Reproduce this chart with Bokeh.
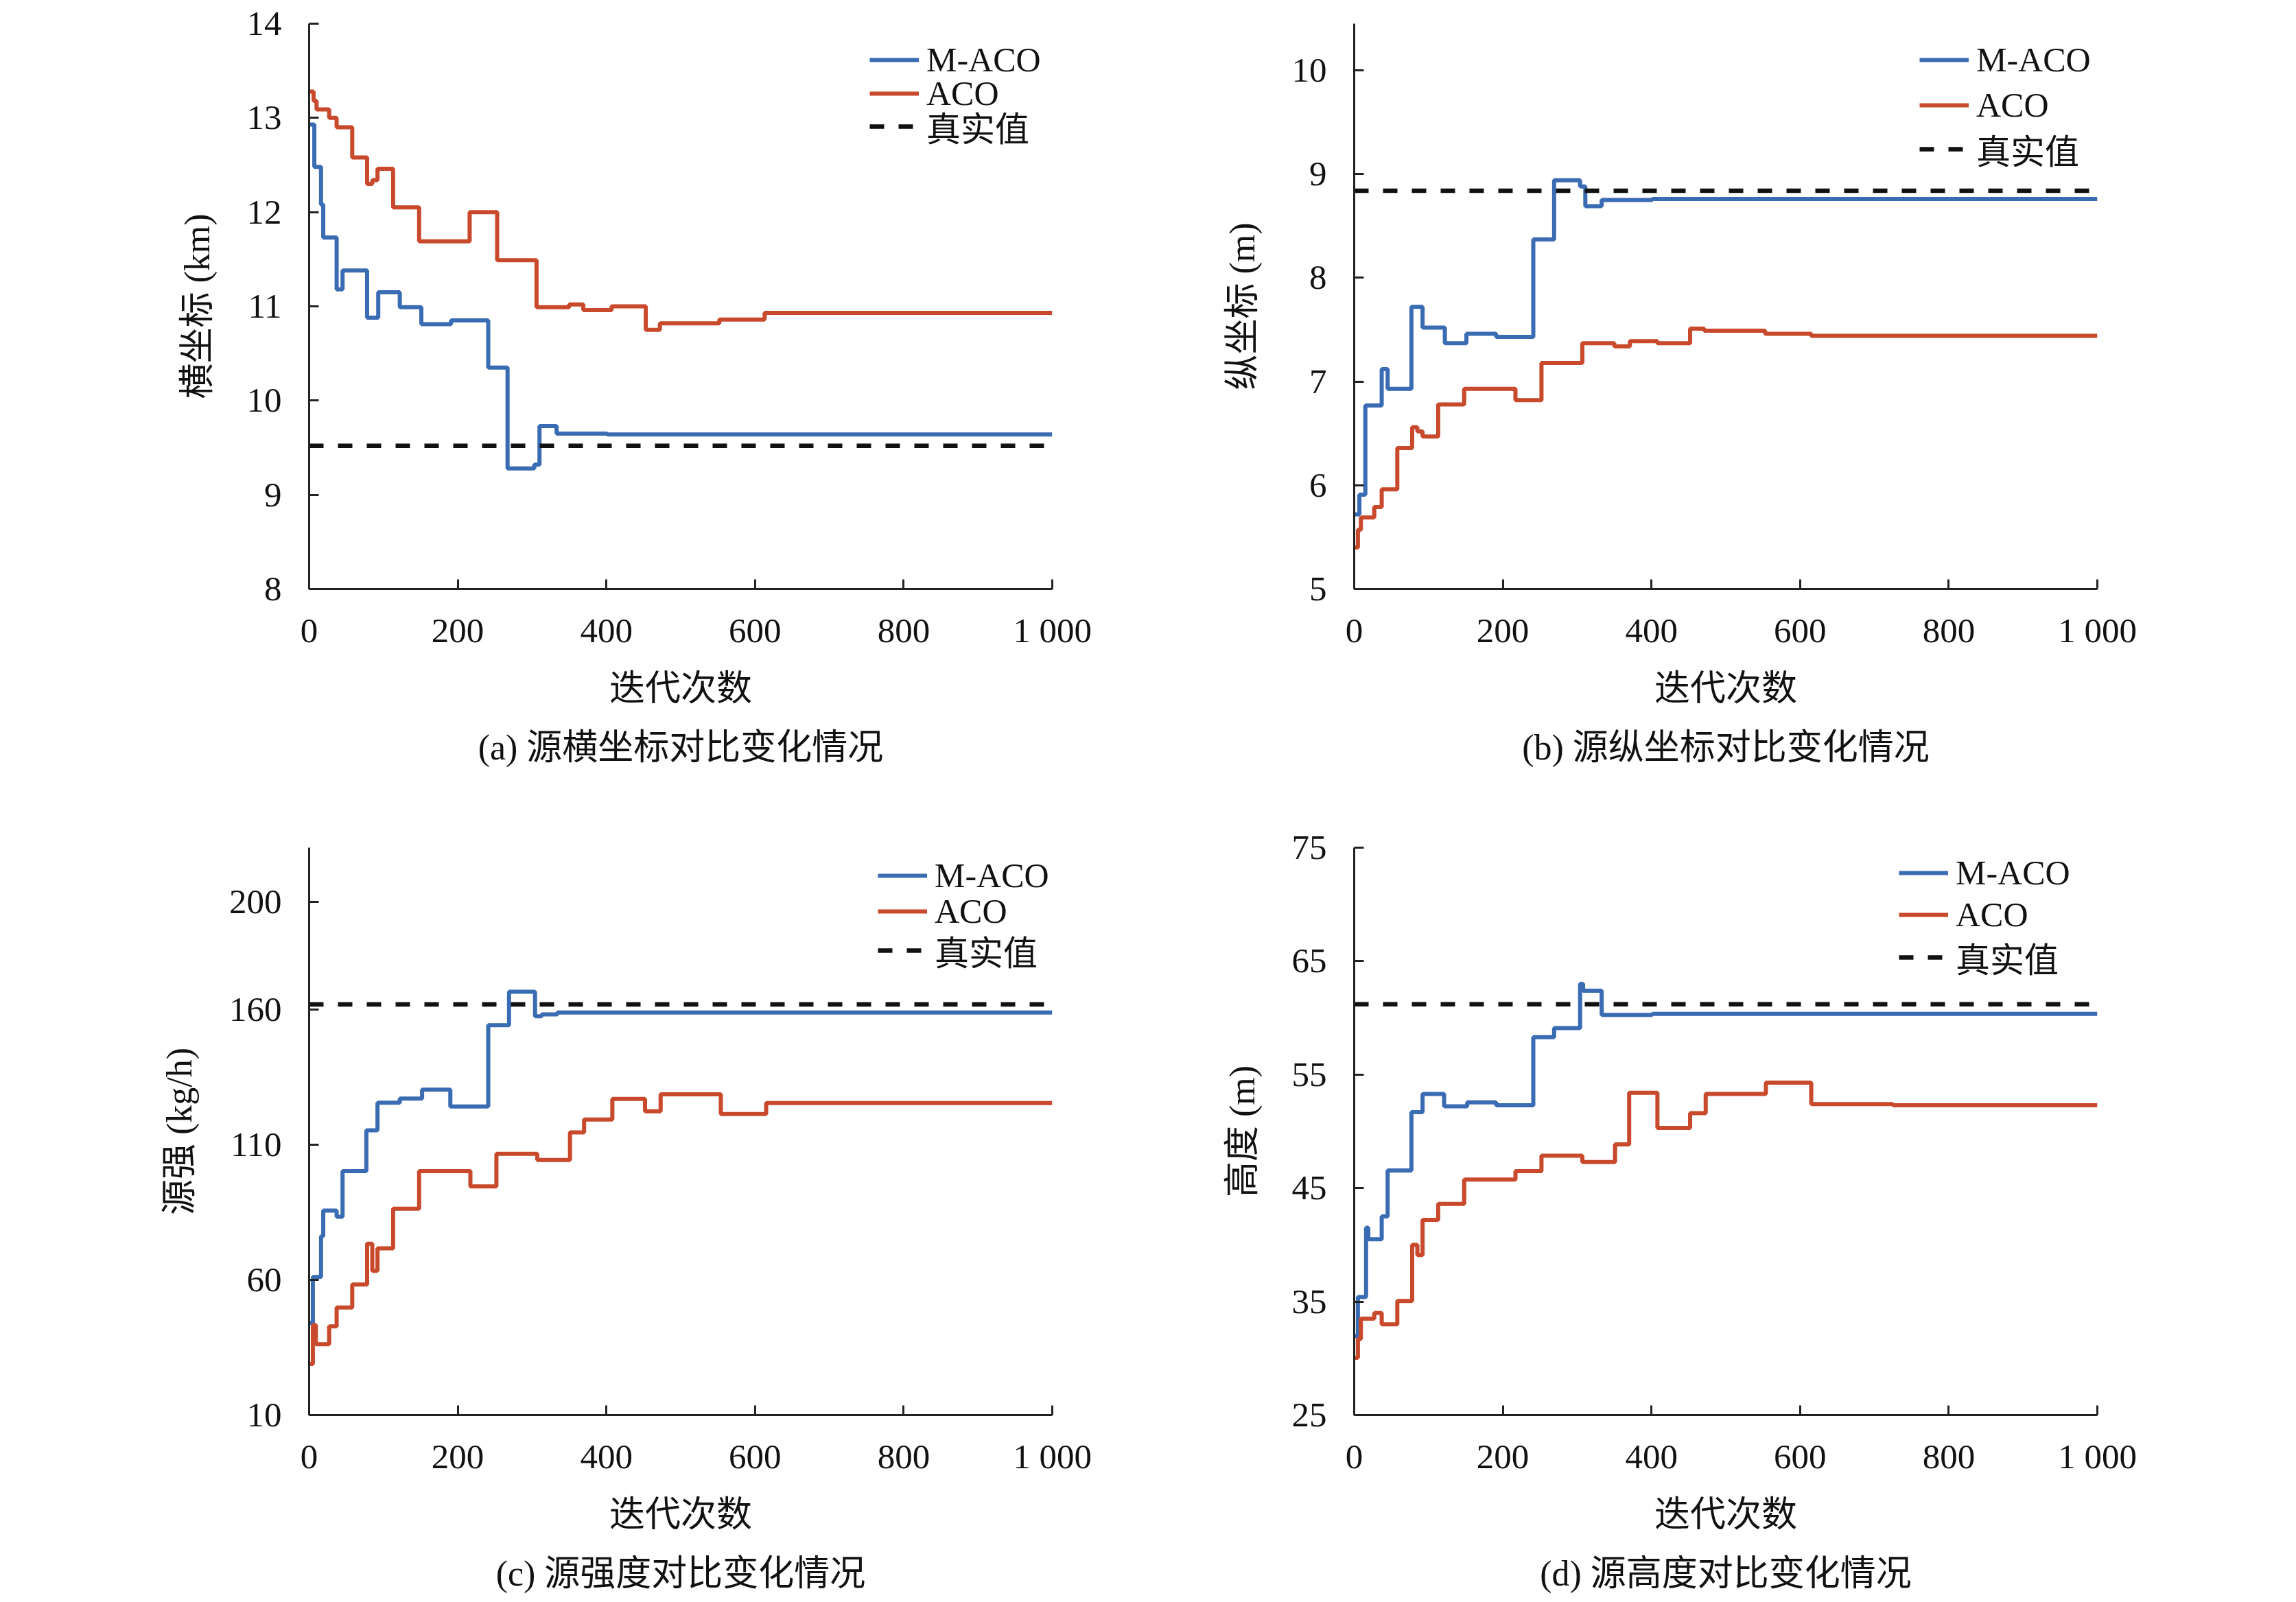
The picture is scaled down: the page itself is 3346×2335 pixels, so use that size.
from bokeh.plotting import figure
from bokeh.models import Range1d, FixedTicker, Legend, LegendItem
from bokeh.layouts import row, column
from bokeh.embed import file_html
from bokeh.resources import INLINE

FONT = "Liberation Serif, Noto Sans CJK SC"
BLUE = "#3a6cb4"
RED = "#c8492b"

# iteration axis
x_ticks = [0, 200, 400, 600, 800, 1000]

# (a) source x coordinate (km)
a_maco_x = [0, 7, 16, 19, 37, 45, 78, 93, 122, 151, 191, 241, 267, 303, 310, 333, 401, 1000]
a_maco_y = [12.93, 12.48, 12.08, 11.73, 11.18, 11.38, 10.88, 11.15, 10.99, 10.81, 10.85, 10.35,
            9.28, 9.32, 9.73, 9.65, 9.64, 9.64]
a_aco_x = [0, 6, 10, 27, 37, 58, 78, 85, 92, 113, 148, 216, 253, 306, 350, 369, 407, 453, 472,
           552, 613, 1000]
a_aco_y = [13.28, 13.18, 13.09, 13.0, 12.90, 12.58, 12.30, 12.34, 12.46, 12.05, 11.69, 12.0,
           11.49, 10.99, 11.02, 10.96, 11.0, 10.75, 10.82, 10.86, 10.93, 10.93]
a_true = 9.52
a_yticks = [8, 9, 10, 11, 12, 13, 14]

# (b) source y coordinate (m)
b_maco_x = [0, 7, 15, 37, 45, 77, 92, 122, 151, 191, 241, 269, 304, 311, 333, 401, 1000]
b_maco_y = [5.72, 5.91, 6.77, 7.12, 6.93, 7.72, 7.52, 7.37, 7.46, 7.43, 8.37, 8.94, 8.88, 8.69,
            8.75, 8.76, 8.76]
b_aco_x = [0, 5, 9, 27, 37, 58, 78, 85, 92, 113, 148, 217, 252, 307, 350, 371, 408, 452, 471,
           553, 615, 1000]
b_aco_y = [5.40, 5.57, 5.69, 5.79, 5.96, 6.36, 6.56, 6.52, 6.47, 6.78, 6.93, 6.82, 7.18, 7.37,
           7.34, 7.39, 7.37, 7.51, 7.49, 7.46, 7.44, 7.44]
b_true = 8.84
b_yticks = [5, 6, 7, 8, 9, 10]

# (c) source strength (kg/h)
c_maco_x = [0, 5, 16, 19, 37, 45, 77, 92, 122, 152, 190, 241, 269, 304, 313, 334, 1000]
c_maco_y = [44.1, 61.1, 76.2, 85.7, 83.4, 100.3, 115.4, 125.6, 127.1, 130.4, 124.2, 154.3,
            166.7, 157.6, 158.3, 159.0, 159.0]
c_aco_x = [0, 5, 9, 27, 37, 58, 78, 85, 92, 113, 148, 217, 252, 307, 351, 370, 408, 452, 473,
           554, 615, 1000]
c_aco_y = [28.9, 43.3, 36.2, 42.8, 49.8, 58.3, 73.4, 63.4, 71.7, 86.4, 100.3, 94.6, 106.7,
           104.4, 114.6, 119.4, 127.0, 122.4, 128.7, 121.4, 125.5, 125.5]
c_true = 162
c_yticks = [10, 60, 110, 160, 200]

# (d) source height (m)
d_maco_x = [0, 5, 16, 19, 37, 45, 77, 92, 121, 152, 191, 241, 269, 304, 308, 333, 401, 1000]
d_maco_y = [31.95, 35.4, 41.5, 40.5, 42.5, 46.55, 51.7, 53.3, 52.2, 52.55, 52.3, 58.3, 59.1,
            63.0, 62.4, 60.27, 60.35, 60.35]
d_aco_x = [0, 5, 9, 27, 37, 58, 78, 85, 92, 113, 148, 217, 252, 307, 351, 370, 408, 452, 473,
           554, 615, 725, 1000]
d_aco_y = [30.05, 31.7, 33.5, 34.0, 33.0, 35.05, 40.0, 39.1, 42.2, 43.6, 45.75, 46.5, 47.85,
           47.3, 48.85, 53.4, 50.3, 51.6, 53.3, 54.3, 52.4, 52.3, 52.3]
d_true = 61.2
d_yticks = [25, 35, 45, 55, 65, 75]

legend_labels = ["M-ACO", "ACO", "真实值"]
ROW_H = 80  # fixed legend row height, so rows can be placed exactly


def make_panel(caption, ylabel, y_range, y_ticks, maco_x, maco_y, aco_x, aco_y, true_val,
               legend_x, legend_rows, frame_h, borders):
    left, right, top, bottom = borders
    p = figure(frame_width=1083, frame_height=frame_h,
               x_range=Range1d(0, 1000), y_range=Range1d(*y_range),
               title=caption, title_location="below",
               output_backend="svg", toolbar_location=None,
               min_border_left=left, min_border_right=right,
               min_border_top=top, min_border_bottom=bottom)
    p.outline_line_color = None
    p.xgrid.visible = False
    p.ygrid.visible = False

    # caption under the chart
    p.title.align = "center"
    p.title.text_font = FONT
    p.title.text_font_size = "52px"
    p.title.text_font_style = "normal"
    p.title.text_color = "#111111"
    p.title.standoff = 49

    p.xaxis.ticker = FixedTicker(ticks=x_ticks)
    p.xaxis.major_label_overrides = {1000: "1 000"}
    p.yaxis.ticker = FixedTicker(ticks=y_ticks)
    p.xaxis.axis_label = "迭代次数"
    p.yaxis.axis_label = ylabel

    for ax in (p.xaxis, p.yaxis):
        ax.axis_line_width = 3
        ax.axis_line_color = "#222222"
        ax.major_tick_line_width = 3
        ax.major_tick_line_color = "#222222"
        ax.major_tick_in = 14
        ax.major_tick_out = 0
        ax.minor_tick_line_color = None
        ax.major_label_text_font = FONT
        ax.major_label_text_font_size = "51px"
        ax.major_label_text_color = "#111111"
        ax.axis_label_text_font = FONT
        ax.axis_label_text_font_size = "52px"
        ax.axis_label_text_font_style = "normal"
        ax.axis_label_text_color = "#111111"
    p.xaxis.major_label_standoff = 32
    p.xaxis.axis_label_standoff = 25
    p.yaxis.major_label_standoff = 40
    p.yaxis.axis_label_standoff = 41

    r1 = p.step(maco_x, maco_y, mode="after", line_color=BLUE, line_width=6)
    r2 = p.step(aco_x, aco_y, mode="after", line_color=RED, line_width=6)
    r3 = p.line([0, 1000], [true_val, true_val], line_color="#111111", line_width=6.5,
                line_dash="21 21")

    # one legend per entry so that each row sits where it does in the original
    for label, rend, cy in zip(legend_labels, (r1, r2, r3), legend_rows):
        lg = Legend(items=[LegendItem(label=label, renderers=[rend])],
                    location=(legend_x, frame_h - cy - ROW_H / 2),
                    padding=0, margin=0, spacing=0,
                    glyph_width=72, glyph_height=ROW_H, label_height=ROW_H,
                    label_standoff=11,
                    border_line_color=None, background_fill_alpha=0)
        lg.label_text_font = FONT
        lg.label_text_font_size = "50px"
        lg.label_text_color = "#111111"
        p.add_layout(lg)
    return p


pa = make_panel("(a) 源横坐标对比变化情况", "横坐标 (km)", (8, 14), a_yticks,
                a_maco_x, a_maco_y, a_aco_x, a_aco_y, a_true,
                817, (53, 102, 150), 824, (450, 100, 34, 337))
pb = make_panel("(b) 源纵坐标对比变化情况", "纵坐标 (m)", (5, 10.45), b_yticks,
                b_maco_x, b_maco_y, b_aco_x, b_aco_y, b_true,
                824, (53, 119, 183), 824, (340, 100, 34, 337))
pc = make_panel("(c) 源强度对比变化情况", "源强 (kg/h)", (10, 220), c_yticks,
                c_maco_x, c_maco_y, c_aco_x, c_aco_y, c_true,
                829, (41, 93, 150), 827, (450, 100, 40, 250))
pd = make_panel("(d) 源高度对比变化情况", "高度 (m)", (25, 75), d_yticks,
                d_maco_x, d_maco_y, d_aco_x, d_aco_y, d_true,
                794, (37, 98, 160), 827, (340, 100, 40, 250))

layout = column(row(pa, pb), row(pc, pd))

open("out.html", "w").write(file_html(layout, INLINE))
